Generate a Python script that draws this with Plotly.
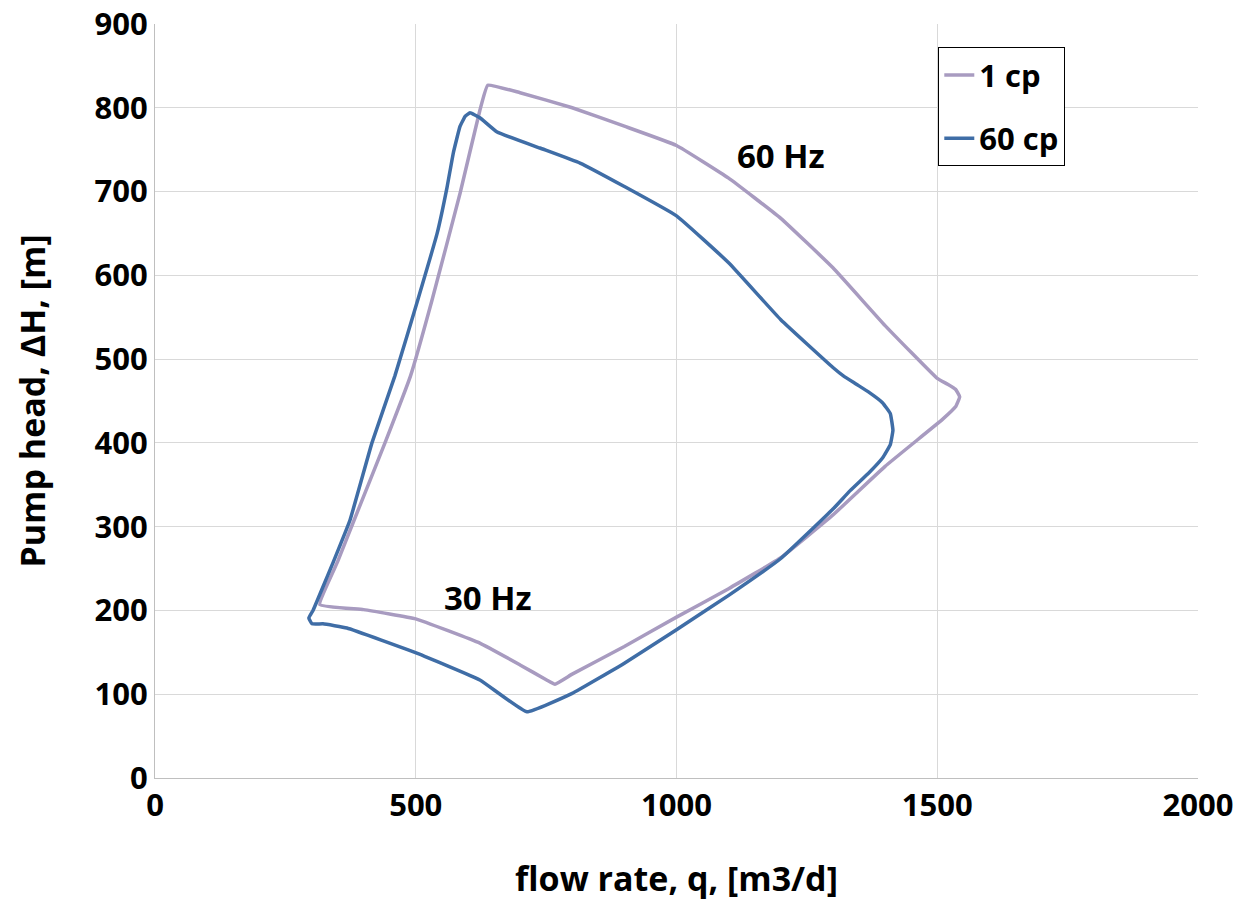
import plotly.graph_objects as go

# 1 cp curve (closed loop): left side, 60 Hz top, right tip, lower branch, 30 Hz bottom
q_1cp = [316, 350, 380, 441, 490, 531, 585, 623, 638,
         700, 800, 900, 1000, 1100, 1200, 1300, 1400, 1500,
         1520, 1535, 1543, 1535, 1510,
         1400, 1300, 1200, 1100, 1000, 900, 800, 767,
         751, 700, 623, 500, 400, 316]
h_1cp = [207, 258, 305, 400, 480, 570, 698, 797, 827,
         818, 800, 778, 755, 716, 668, 609, 540, 477,
         470, 464, 455, 443, 428,
         372, 314, 263, 226, 192, 157, 124, 112,
         117, 135, 161, 190, 201, 207]

# 60 cp curve (closed loop)
q_60cp = [303, 322, 340, 374, 416, 460, 505, 541, 560, 572, 585, 595, 604,
          623, 656, 738, 815, 900, 1000, 1100, 1200, 1300, 1320, 1345, 1370,
          1395, 1410, 1415, 1410, 1395, 1370, 1333, 1300,
          1200, 1100, 1000, 900, 800, 713,
          623, 502, 368, 322, 301, 295, 303]
h_60cp = [200, 228, 255, 308, 400, 480, 573, 650, 705, 746, 778, 790, 794,
          788, 771, 752, 734, 706, 671, 615, 547, 490, 480, 470, 460,
          448, 435, 415, 398, 382, 365, 343, 321,
          262, 218, 177, 137, 101, 79,
          117, 149, 179, 184, 184, 191, 200]

labels = ["1 cp", "60 cp"]
colors = ["#A89BC0", "#3F6DA6"]

FONT = "Open Sans"

fig = go.Figure()
fig.add_trace(go.Scatter(x=q_1cp, y=h_1cp, mode="lines", name=labels[0],
                         legendgroup="a",
                         line=dict(color=colors[0], width=3.5,
                                   shape="spline", smoothing=0.3)))
fig.add_trace(go.Scatter(x=q_60cp, y=h_60cp, mode="lines", name=labels[1],
                         legendgroup="b",
                         line=dict(color=colors[1], width=3.5,
                                   shape="spline", smoothing=0.3)))

fig.add_annotation(x=1200, y=743, text="<b>60 Hz</b>", showarrow=False,
                   font=dict(family=FONT, size=33, color="black"))
fig.add_annotation(x=638, y=215, text="<b>30 Hz</b>", showarrow=False,
                   font=dict(family=FONT, size=33, color="black"))

fig.update_layout(
    width=1249, height=907,
    margin=dict(l=155, r=51, t=24, b=129),
    paper_bgcolor="white", plot_bgcolor="white",
    font=dict(family=FONT, size=30, color="black"),
    showlegend=True,
    legend=dict(x=0.751, y=0.969, xanchor="left", yanchor="top",
                bordercolor="black", borderwidth=1, bgcolor="white",
                font=dict(family=FONT, size=31, color="black", weight="bold"),
                tracegroupgap=20),
    xaxis=dict(range=[0, 2000], tickvals=[0, 500, 1000, 1500, 2000],
               showgrid=True, gridcolor="#D9D9D9", gridwidth=1,
               showline=True, linecolor="#BFBFBF", linewidth=1,
               zeroline=False, ticks="", automargin=False,
               ticklabeloverflow="allow",
               tickfont=dict(family=FONT, size=31, weight="bold"),
               title=dict(text="<b>flow rate, q, [m3/d]</b>",
                          font=dict(family=FONT, size=34), standoff=42)),
    yaxis=dict(range=[0, 900], tickvals=list(range(0, 901, 100)),
               showgrid=True, gridcolor="#D9D9D9", gridwidth=1,
               showline=True, linecolor="#BFBFBF", linewidth=1,
               zeroline=False, ticks="", automargin=False,
               ticklabeloverflow="allow",
               tickfont=dict(family=FONT, size=31, weight="bold"),
               title=dict(text="<b>Pump head, ΔH, [m]</b>",
                          font=dict(family=FONT, size=34), standoff=38)),
)

fig.write_html("out.html",
               config={"displayModeBar": False},
               post_script="document.body.style.margin='0px';")
